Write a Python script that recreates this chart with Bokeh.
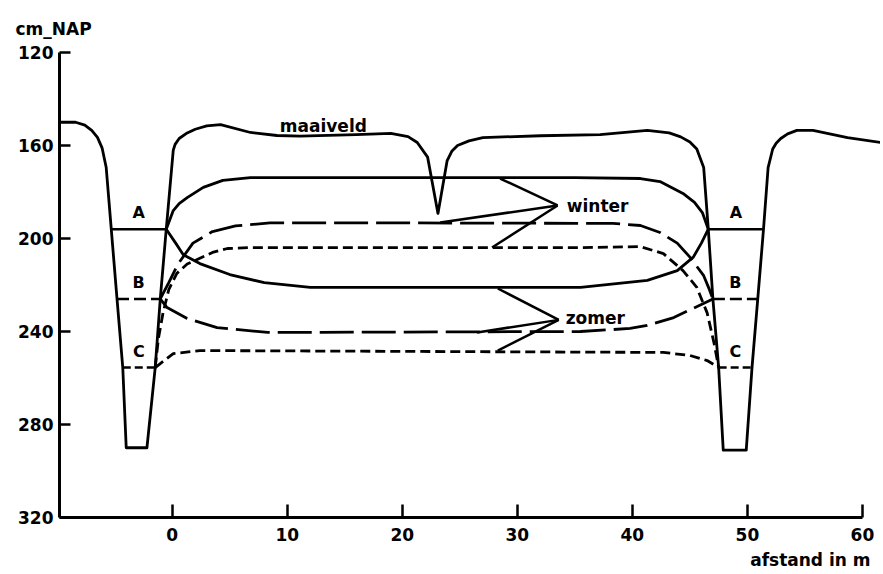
from bokeh.plotting import figure
from bokeh.models import Range1d, FixedTicker, Label, Title
from bokeh.embed import file_html
from bokeh.resources import INLINE

# ---- data (x in m, y in cm NAP) ----
maaiveld_x = [-9.8, -8.4, -7.6, -7.0, -6.5, -6.1, -5.74, -5.3, -4.8, -4.3, -4.0, -2.2, -1.48, -1.04, -0.52,
              0.09, 0.25, 0.6, 1.3, 2.0, 3.0, 4.2, 6.8, 9.1, 11.1, 16.0, 19.0, 20.5, 21.3, 22.2, 23.1, 23.9, 24.3, 24.8,
              25.8, 27.0, 32.0, 37.2, 41.3, 43.2, 44.2, 45.0, 45.6, 46.2, 46.6, 47.0, 47.5, 47.9, 49.9, 50.4, 50.9,
              51.4, 51.8, 52.2, 52.5, 52.9, 53.5, 54.3, 55.7, 58.7, 61.6]
maaiveld_y = [150, 150, 151.2, 153.5, 156.5, 161, 169.5, 196, 226, 255.5, 290, 290, 255.5, 226, 196,
              162, 159.5, 157, 154.6, 153, 151.6, 151, 154.4, 155.7, 156, 155.3, 154.8, 156.2, 158.7, 165, 189.2, 166.5, 162.5, 160,
              158, 156.6, 155.8, 155.3, 153.5, 154.6, 156.3, 158.5, 161.5, 169.5, 196, 226, 255.5, 291, 291, 255.5, 226,
              196, 169.5, 161.5, 159, 157, 155, 153.5, 153.5, 156.6, 158.7]

winter_a_x = [-0.52, 0.09, 0.6, 1.3, 2.7, 4.4, 6.8, 20, 35, 40.7, 42.4, 44.4, 45.4, 46.1, 46.6]
winter_a_y = [196, 188, 185, 182.4, 178, 175, 173.8, 173.8, 173.8, 174.2, 175.5, 180.6, 184.5, 189, 196]

zomer_a_x = [-0.52, 0.3, 0.96, 2.4, 5.0, 8.0, 12.0, 35.5, 41.3, 43.9, 45.3, 46.0, 46.6]
zomer_a_y = [196, 202, 207, 210.8, 215.5, 219, 221, 221, 218, 213.8, 208, 202, 196]

winter_b_x = [-1.04, -0.3, 0.5, 1.8, 3.5, 5.5, 8.5, 20, 38.3, 40.7, 42.4, 43.9, 45.0, 46.2, 46.7, 47.0]
winter_b_y = [226, 219, 211, 202, 197, 194.6, 193.3, 193.3, 193.5, 194.4, 197.4, 202, 208, 216, 222, 226]

winter_c_x = [-1.48, -1.2, -0.8, -0.3, 0.4, 1.3, 2.4, 3.5, 4.8, 6.8, 20, 35.5, 40.7, 42.7, 44.4, 45.6, 46.5, 47.1, 47.5]
winter_c_y = [255.5, 243, 232, 222, 215, 211, 208.5, 206, 204.3, 203.9, 203.9, 203.9, 203.5, 206.5, 213.8, 221, 232, 245, 255.5]

zomer_b_x = [-1.04, -0.45, 1.3, 3.9, 8.3, 35.5, 39.8, 41.3, 43.6, 45.3, 47.0]
zomer_b_y = [226, 229.7, 234.4, 238.3, 240.4, 240, 238.7, 237.4, 234, 230, 226]

zomer_c_x = [-1.48, -1.04, 0.09, 2.4, 42.7, 45.0, 46.5, 47.5]
zomer_c_y = [255.5, 253.8, 249.5, 248.2, 249, 250.3, 252.5, 255.5]

level_names = ["A", "B", "C"]
level_values = [196, 226, 255.5]
left_ditch_x0 = [-5.3, -4.8, -4.3]
left_ditch_x1 = [-0.52, -1.04, -1.48]
right_ditch_x0 = [46.6, 47.0, 47.5]
right_ditch_x1 = [51.4, 50.9, 50.4]

winter_pointer_xs = [[33.5, 28.5], [33.5, 23.3], [33.5, 27.8]]
winter_pointer_ys = [[185.8, 174.2], [185.8, 193.1], [185.8, 203.9]]
zomer_pointer_xs = [[33.6, 28.3], [33.6, 26.5], [33.6, 28.3]]
zomer_pointer_ys = [[235.0, 221.5], [235.0, 240.4], [235.0, 248.2]]

x_ticks = [0, 10, 20, 30, 40, 50, 60]
y_ticks = [120, 160, 200, 240, 280, 320]

FONT = "DejaVu Sans"
LW = 2.8
LONG_DASH = "34 8"
SHORT_DASH = "10 5"

p = figure(width=880, height=574, output_backend="svg", toolbar_location=None,
           x_range=Range1d(-9.8, 61.57), y_range=Range1d(320, 120),
           min_border_left=59, min_border_right=0, min_border_top=52, min_border_bottom=57)
p.title.text = "cm_NAP"
p.title.align = "left"
p.title.offset = -44
p.title.text_font = FONT
p.title.text_font_style = "bold"
p.title.text_font_size = "17px"
p.title.text_color = "black"
p.title.standoff = 28

p.outline_line_color = None
p.xgrid.visible = False
p.ygrid.visible = False
p.background_fill_color = "white"
p.border_fill_color = "white"

for ax in (p.xaxis[0], p.yaxis[0]):
    ax.axis_line_width = 3
    ax.axis_line_color = "black"
    ax.major_tick_line_width = 2.5
    ax.major_tick_out = 0
    ax.minor_tick_line_color = None
    ax.major_label_text_font = FONT
    ax.major_label_text_font_style = "bold"
    ax.major_label_text_font_size = "17px"
    ax.major_label_text_color = "black"

p.xaxis[0].ticker = FixedTicker(ticks=x_ticks)
p.xaxis[0].bounds = (-9.8, 60)
p.xaxis[0].major_tick_in = 13
p.xaxis[0].major_label_standoff = 10

p.yaxis[0].ticker = FixedTicker(ticks=y_ticks)
p.yaxis[0].bounds = (120, 320)
p.yaxis[0].major_tick_in = 11
p.yaxis[0].major_label_standoff = 6

p.add_layout(Title(text="afstand in m", align="right", offset=10, text_font=FONT,
                   text_font_style="bold", text_font_size="17px", text_color="black",
                   standoff=9), "below")

# ground surface with ditches
p.line(maaiveld_x, maaiveld_y, line_color="black", line_width=LW, line_join="round")

# groundwater curves
p.line(winter_a_x, winter_a_y, line_color="black", line_width=LW, line_join="round")
p.line(zomer_a_x, zomer_a_y, line_color="black", line_width=LW, line_join="round")
p.line(winter_b_x, winter_b_y, line_color="black", line_width=LW, line_dash=LONG_DASH)
p.line(zomer_b_x, zomer_b_y, line_color="black", line_width=LW, line_dash=LONG_DASH)
p.line(winter_c_x, winter_c_y, line_color="black", line_width=LW, line_dash=SHORT_DASH)
p.line(zomer_c_x, zomer_c_y, line_color="black", line_width=LW, line_dash=SHORT_DASH)

# water levels in the ditches
dashes = ["solid", "12 5", "8 4"]
for i, lv in enumerate(level_values):
    p.line([left_ditch_x0[i], left_ditch_x1[i]], [lv, lv], line_color="black", line_width=2.5,
           line_dash=dashes[i])
    p.line([right_ditch_x0[i], right_ditch_x1[i]], [lv, lv], line_color="black", line_width=2.5,
           line_dash=dashes[i])
    xl = (left_ditch_x0[i] + left_ditch_x1[i]) / 2
    xr = (right_ditch_x0[i] + right_ditch_x1[i]) / 2
    for xx in (xl, xr):
        p.add_layout(Label(x=xx, y=lv - 3, text=level_names[i], text_align="center",
                           text_baseline="bottom", text_font=FONT, text_font_style="bold",
                           text_font_size="16px", text_color="black"))

# pointers
p.multi_line(winter_pointer_xs, winter_pointer_ys, line_color="black", line_width=2.5)
p.multi_line(zomer_pointer_xs, zomer_pointer_ys, line_color="black", line_width=2.5)

def lab(x, y, t, align="left", baseline="middle", size="17px"):
    p.add_layout(Label(x=x, y=y, text=t, text_align=align, text_baseline=baseline,
                       text_font=FONT, text_font_style="bold", text_font_size=size,
                       text_color="black"))

lab(9.35, 151.4, "maaiveld")
lab(34.3, 186.2, "winter")
lab(34.2, 234.4, "zomer")

open("out.html", "w").write(file_html(p, INLINE))
